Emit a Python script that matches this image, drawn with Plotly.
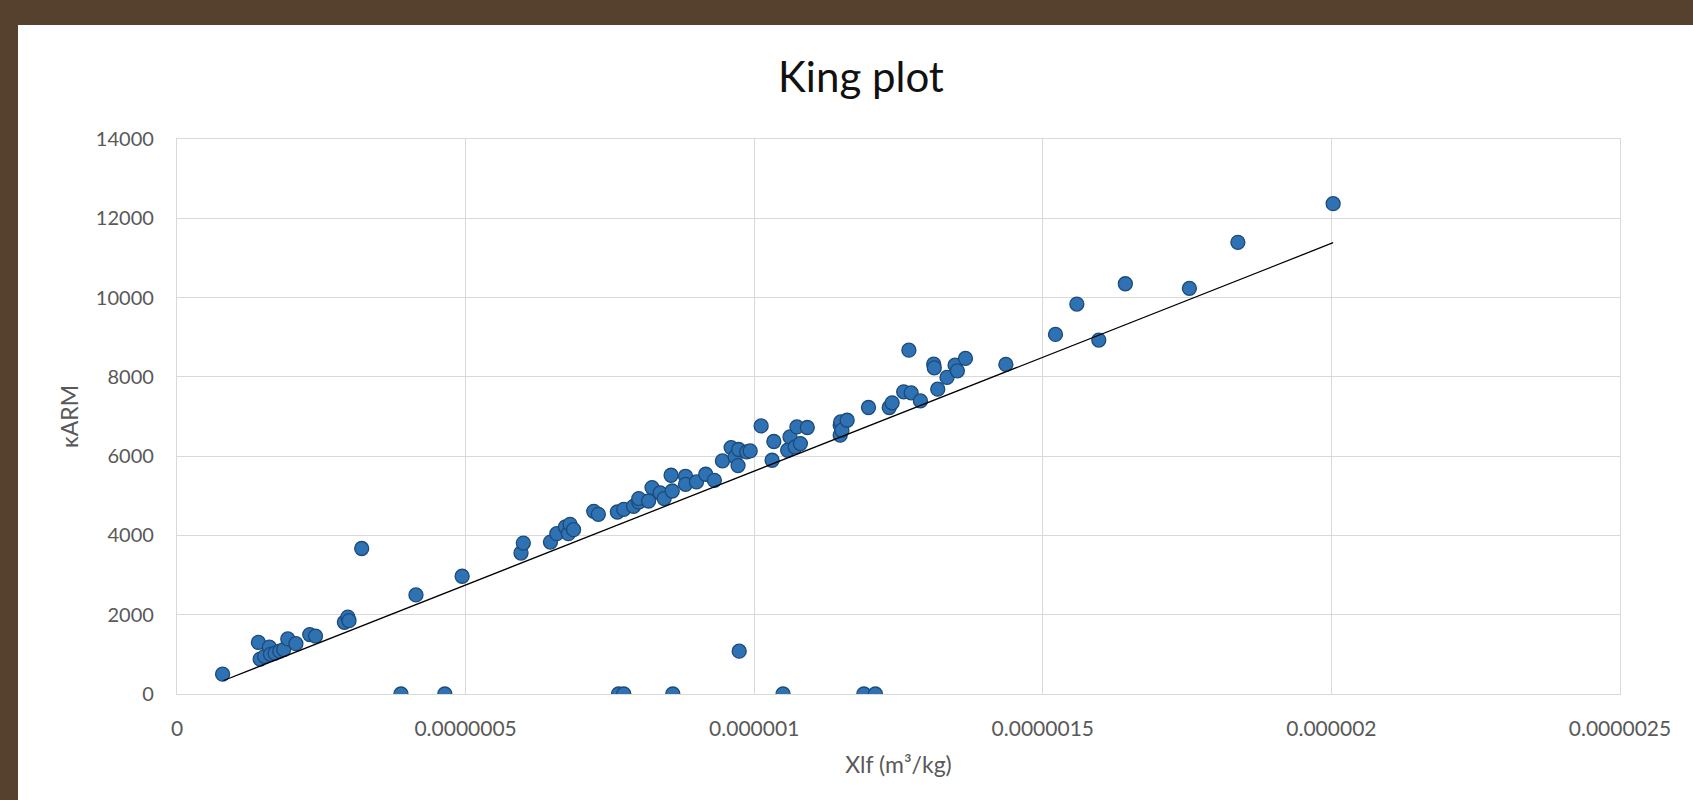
import plotly.graph_objects as go

# ---- data ----
xlf = [
    7.9e-8, 1.41e-7, 1.44e-7, 1.52e-7, 1.60e-7, 1.62e-7, 1.70e-7, 1.78e-7, 1.85e-7, 1.92e-7,
    2.06e-7, 2.30e-7, 2.40e-7, 2.90e-7, 2.96e-7, 2.98e-7, 3.20e-7, 4.14e-7, 4.94e-7,
    5.96e-7, 6.00e-7, 6.47e-7, 6.58e-7, 6.73e-7, 6.78e-7, 6.81e-7, 6.87e-7,
    7.22e-7, 7.30e-7, 7.63e-7, 7.74e-7, 7.91e-7, 8.00e-7, 8.00e-7, 8.17e-7, 8.23e-7,
    8.37e-7, 8.44e-7, 8.56e-7, 8.58e-7, 8.81e-7, 8.81e-7, 9.00e-7, 9.16e-7, 9.31e-7,
    9.45e-7, 9.60e-7, 9.67e-7, 9.72e-7, 9.73e-7, 9.87e-7, 9.93e-7, 1.012e-6, 1.031e-6,
    1.034e-6, 1.058e-6, 1.062e-6, 1.071e-6, 1.074e-6, 1.080e-6, 1.092e-6, 1.149e-6,
    1.149e-6, 1.150e-6, 1.152e-6, 1.161e-6, 1.198e-6, 1.234e-6, 1.239e-6, 1.259e-6,
    1.268e-6, 1.272e-6, 1.288e-6, 1.311e-6, 1.312e-6, 1.318e-6, 1.334e-6, 1.348e-6,
    1.352e-6, 1.366e-6, 1.436e-6, 1.522e-6, 1.559e-6, 1.597e-6, 1.643e-6, 1.754e-6,
    1.838e-6, 2.003e-6,
    9.74e-7,
    3.88e-7, 4.64e-7, 7.65e-7, 7.74e-7, 8.59e-7, 1.050e-6, 1.190e-6, 1.210e-6,
]
karm = [
    500, 1300, 880, 950, 1180, 1000, 1030, 1080, 1120, 1390,
    1270, 1500, 1460, 1810, 1940, 1850, 3670, 2500, 2970,
    3556, 3808, 3833, 4045, 4212, 4045, 4280, 4146,
    4608, 4533, 4591, 4659, 4735, 4843, 4929, 4869, 5207,
    5071, 4929, 5518, 5121, 5492, 5290, 5349, 5543, 5391,
    5879, 6217, 5980, 5763, 6167, 6106, 6131, 6763, 5896,
    6369, 6149, 6485, 6232, 6738, 6318, 6722, 6780,
    6528, 6864, 6654, 6906, 7227, 7227, 7344, 7622,
    8674, 7596, 7394, 8320, 8228, 7689, 7985, 8295,
    8152, 8464, 8313, 9071, 9836, 8927, 10349, 10232,
    11394, 12369,
    1081,
    0, 0, 0, 0, 0, 0, 0, 0,
]

trend_x = [8.07e-8, 2.003e-6]
trend_y = [341, 11384]

x_tickvals = [0, 5e-7, 1e-6, 1.5e-6, 2e-6, 2.5e-6]
x_ticktext = ["0", "0.0000005", "0.000001", "0.0000015", "0.000002", "0.0000025"]
y_tickvals = [0, 2000, 4000, 6000, 8000, 10000, 12000, 14000]

# ---- layout geometry (pixels) ----
W, H = 1693, 800
ML, MR, MT, MB = 177, 73, 139, 106
pw, ph = W - ML - MR, H - MT - MB

def px_to_paper_x(p):
    return (p - ML) / pw

def px_to_paper_y(p):
    return (H - MB - p) / ph

FONT = "Lato, 'Open Sans', sans-serif"
GRID = "#d9d9d9"
TXT = "#595959"

fig = go.Figure()

fig.add_trace(go.Scatter(
    x=xlf, y=karm, mode="markers",
    marker=dict(size=14, color="#2e72b4", line=dict(color="#1d4a78", width=1.3)),
    showlegend=False, hoverinfo="x+y",
))
fig.add_trace(go.Scatter(
    x=trend_x, y=trend_y, mode="lines",
    line=dict(color="black", width=1.3),
    showlegend=False, hoverinfo="skip",
))

fig.add_shape(
    type="rect", xref="paper", yref="paper", layer="below",
    x0=px_to_paper_x(18), x1=px_to_paper_x(W + 20),
    y0=px_to_paper_y(H + 20), y1=px_to_paper_y(25),
    fillcolor="white", line=dict(width=0),
)

fig.update_layout(
    width=W, height=H,
    margin=dict(l=ML, r=MR, t=MT, b=MB, pad=0),
    paper_bgcolor="#56412e",
    plot_bgcolor="white",
    font=dict(family=FONT, color=TXT),
    title=dict(
        text="King plot", x=861 / W, xanchor="center", xref="container",
        y=1 - 77 / H, yanchor="middle", yref="container",
        font=dict(family=FONT, size=42, color="#111111"),
    ),
    xaxis=dict(
        range=[0, 2.5e-6], tickvals=x_tickvals, ticktext=x_ticktext,
        showgrid=True, gridcolor=GRID, gridwidth=1.3,
        showline=True, linecolor=GRID, linewidth=1.3, mirror=True,
        zeroline=False, ticks="", ticklabelstandoff=16,
        tickfont=dict(family=FONT, size=21, color=TXT),
        title=dict(text="Xlf (m³/kg)", standoff=17,
                   font=dict(family=FONT, size=23, color=TXT)),
    ),
    yaxis=dict(
        range=[0, 14000], tickvals=y_tickvals, tickformat="d",
        showgrid=True, gridcolor=GRID, gridwidth=1.3,
        showline=True, linecolor=GRID, linewidth=1.3, mirror=True,
        zeroline=False, ticks="", ticklabelstandoff=18,
        tickfont=dict(family=FONT, size=20, color=TXT),
        title=dict(text="κARM", standoff=10,
                   font=dict(family=FONT, size=23, color=TXT)),
    ),
)

fig.write_html("out.html")
